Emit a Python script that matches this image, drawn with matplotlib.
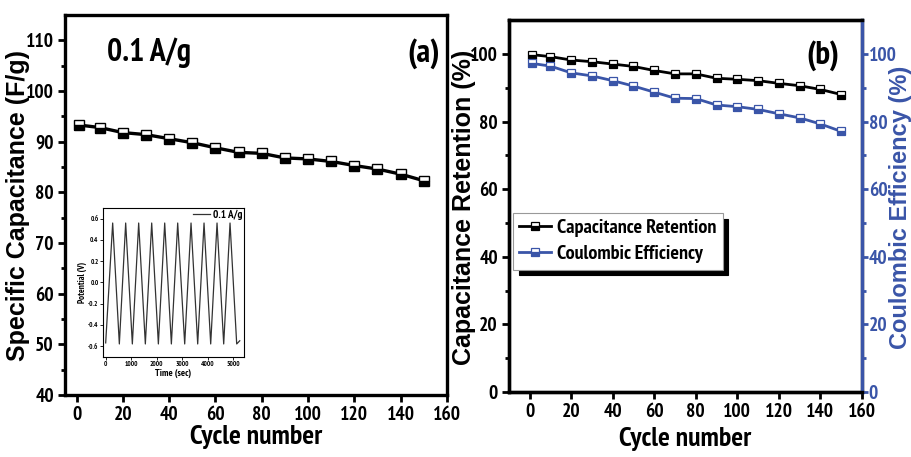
import matplotlib
matplotlib.use("Agg")
import matplotlib.pyplot as plt
from matplotlib import font_manager

avail = {f.name for f in font_manager.fontManager.ttflist}
narrow = next((n for n in ['Liberation Sans Narrow', 'PT Sans Narrow', 'Pragati Narrow',
                           'Fira Sans Condensed', 'IBM Plex Sans Condensed',
                           'Roboto Condensed', 'Archivo Narrow'] if n in avail), 'DejaVu Sans')

plt.rcParams['font.family'] = [narrow, 'DejaVu Sans']
plt.rcParams['font.stretch'] = 'condensed'
plt.rcParams['font.weight'] = 'bold'
plt.rcParams['axes.labelweight'] = 'bold'

cycles = [1, 10, 20, 30, 40, 50, 60, 70, 80, 90, 100, 110, 120, 130, 140, 150]
capacitance = [93.3, 92.8, 91.8, 91.4, 90.6, 89.8, 88.8, 87.9, 87.7, 86.8,
               86.6, 86.1, 85.3, 84.6, 83.6, 82.3]
retention = [99.8, 99.2, 98.2, 97.7, 97.0, 96.3, 95.1, 94.1, 94.1, 92.8,
             92.5, 92.1, 91.3, 90.6, 89.5, 88.0]
coulombic = [97.2, 96.4, 94.4, 93.5, 92.1, 90.5, 88.7, 86.9, 86.8, 84.9,
             84.4, 83.6, 82.3, 81.1, 79.3, 77.1]

# inset GCD curve, turning points
gcd_time = [0, 274, 535, 783, 1044, 1292, 1553, 1802, 2063, 2311, 2572,
            2820, 3094, 3342, 3603, 3851, 4112, 4360, 4621, 4869, 5130, 5250]
gcd_pot = [-0.57, 0.56, -0.58, 0.56, -0.58, 0.56, -0.58, 0.56, -0.58, 0.56, -0.58,
           0.56, -0.58, 0.56, -0.58, 0.56, -0.58, 0.56, -0.58, 0.56, -0.58, -0.55]

blue = '#3a55a8'
wide = dict(family='Liberation Sans', stretch='normal', weight='bold')

fig = plt.figure(figsize=(9.12, 4.57), dpi=100)

def style_axes(ax):
    for s in ax.spines.values():
        s.set_linewidth(2.4)
    ax.tick_params(which='both', direction='out', width=2, labelsize=14, pad=3)
    ax.tick_params(which='major', length=5)
    ax.tick_params(which='minor', length=3)
    ax.tick_params(top=False, right=False, which='both')

# ---- panel (a)
ax1 = fig.add_axes([0.0713, 0.1357, 0.4187, 0.8313])
ax1.plot(cycles, capacitance, color='black', lw=2.4, marker='s', ms=7,
         fillstyle='bottom', markerfacecolor='black', markerfacecoloralt='white',
         markeredgecolor='black', markeredgewidth=1)
ax1.set_xlim(-5, 160)
ax1.set_ylim(40, 115)
ax1.set_xticks(range(0, 161, 20))
ax1.set_yticks(range(40, 111, 10))
ax1.set_yticks(range(45, 115, 10), minor=True)
style_axes(ax1)
ax1.set_xlabel('Cycle number', fontsize=20, labelpad=1)
ax1.set_ylabel('Specific Capacitance (F/g)', fontsize=18, **wide)
ax1.yaxis.set_label_coords(-0.092, 0.5)
ax1.text(0.22, 0.9, '0.1 A/g', transform=ax1.transAxes, fontsize=23, ha='center', va='center')
ax1.text(0.94, 0.9, '(a)', transform=ax1.transAxes, fontsize=24, ha='center', va='center')

# inset
ins = fig.add_axes([0.1126, 0.2195, 0.155, 0.325])
ins.plot(gcd_time, gcd_pot, color='#333333', lw=0.9, label='0.1 A/g')
ins.set_xlim(-117, 5418)
ins.set_ylim(-0.7, 0.7)
ins.set_xticks([0, 1000, 2000, 3000, 4000, 5000])
ins.set_yticks([-0.6, -0.4, -0.2, 0.0, 0.2, 0.4, 0.6])
ins.set_yticklabels(['-0.6', '-0.4', '-0.2', '0.0', '0.2', '0.4', '0.6'])
ins.tick_params(labelsize=5, length=2, width=0.6, direction='out', pad=1)
for s in ins.spines.values():
    s.set_linewidth(0.8)
ins.set_xlabel('Time (sec)', fontsize=7, labelpad=1)
ins.set_ylabel('Potential (V)', fontsize=6.5, labelpad=1)
ins.legend(loc='upper right', frameon=False, fontsize=8, handlelength=1.5,
           borderaxespad=0, borderpad=0.1, handletextpad=0.3)

# ---- panel (b)
ax2 = fig.add_axes([0.558, 0.142, 0.387, 0.814])
l1, = ax2.plot(cycles, retention, color='black', lw=2, marker='s', ms=5.5,
               fillstyle='bottom', markerfacecolor='black', markerfacecoloralt='white',
               markeredgecolor='black', markeredgewidth=0.9, label='Capacitance Retention')
ax2.set_xlim(-10, 160)
ax2.set_ylim(0, 110)
ax2.set_xticks(range(0, 161, 20))
ax2.set_yticks(range(0, 101, 20))
ax2.set_yticks(range(10, 110, 20), minor=True)
style_axes(ax2)
ax2.set_xlabel('Cycle number', fontsize=20, labelpad=4)
ax2.set_ylabel('Capacitance Retention (%)', fontsize=18, **wide)
ax2.yaxis.set_label_coords(-0.092, 0.497)
ax2.text(0.89, 0.905, '(b)', transform=ax2.transAxes, fontsize=24, ha='center', va='center')

ax3 = ax2.twinx()
l2, = ax3.plot(cycles, coulombic, color=blue, lw=2, marker='s', ms=5.5,
               fillstyle='bottom', markerfacecolor=blue, markerfacecoloralt='white',
               markeredgecolor=blue, markeredgewidth=0.9, label='Coulombic Efficiency')
ax3.set_ylim(0, 110)
ax3.set_yticks(range(0, 101, 20))
ax3.set_yticks(range(10, 110, 20), minor=True)
for s in ax3.spines.values():
    s.set_linewidth(2.4)
ax3.spines['right'].set_color(blue)
ax3.tick_params(which='both', direction='out', width=2, labelsize=14, pad=1,
                colors=blue, right=True, left=False)
ax3.tick_params(which='major', length=4)
ax3.tick_params(which='minor', length=3)
ax3.set_ylabel('Coulombic Efficiency (%)', fontsize=17, color=blue, **wide)
ax3.yaxis.set_label_coords(1.077, 0.497)

leg = ax2.legend([l1, l2], ['Capacitance Retention', 'Coulombic Efficiency'],
                 loc='upper left', bbox_to_anchor=(0.012, 0.481), fontsize=14.5,
                 borderaxespad=0,
                 fancybox=False, shadow={'color': 'black', 'alpha': 1, 'ox': 4, 'oy': -4},
                 handlelength=1.6, handletextpad=0.3, borderpad=0.3, labelspacing=0.4)
leg.get_frame().set_edgecolor('#999999')
leg.get_frame().set_linewidth(0.8)

fig.savefig('out.png', dpi=100)
